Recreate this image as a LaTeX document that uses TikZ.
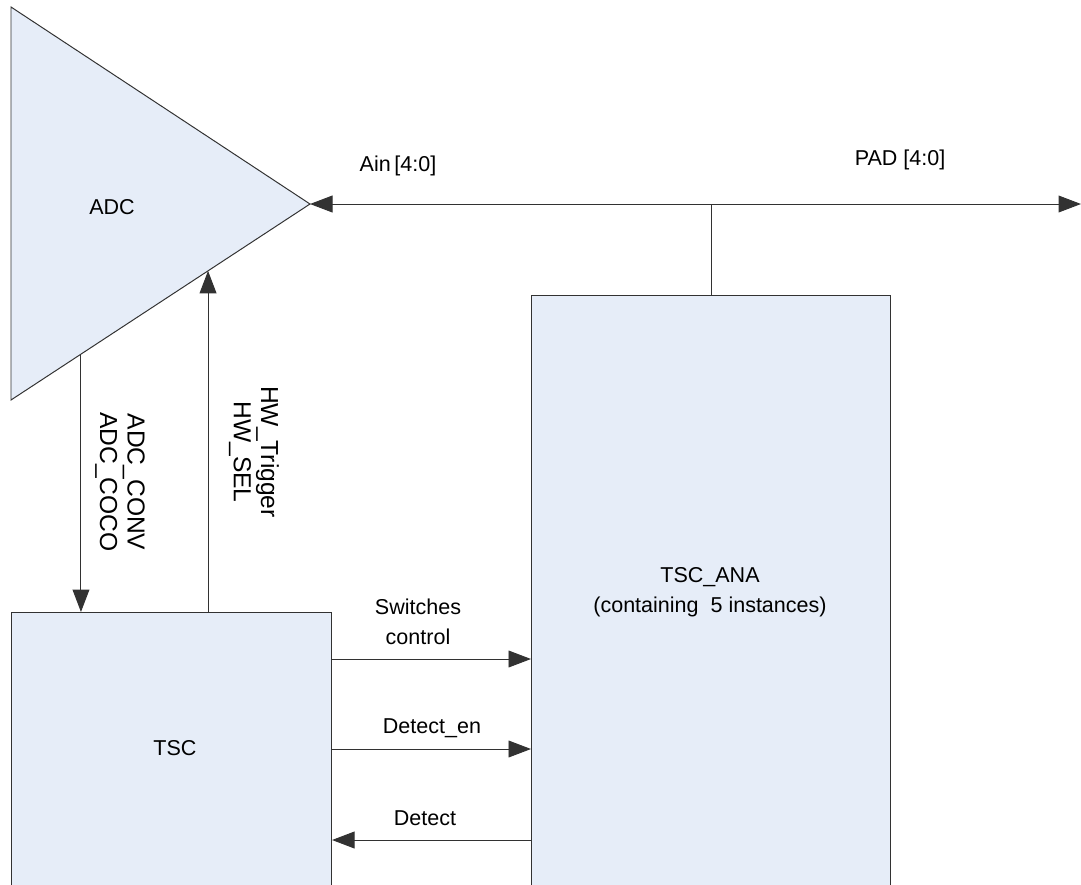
\documentclass[tikz,border=0pt]{standalone}
\usepackage{fontspec}
\setmainfont{Liberation Sans}
\usetikzlibrary{positioning,arrows.meta,calc}
\definecolor{BlockFill}{RGB}{230,237,248}
\definecolor{WireGray}{RGB}{50,50,50}

\begin{document}
\begin{tikzpicture}[
x=0.025cm, y=-0.025cm,
font=\fontsize{15.3}{21}\selectfont,
blk/.style={draw=WireGray, fill=BlockFill, line width=0.7pt, inner sep=0pt},
wire/.style={draw=WireGray, line width=0.7pt},
tip/.style={-{Triangle[length=16pt, width=12pt]}},
arr/.style={wire, tip},
lbl/.style={align=center, inner sep=1pt},
vlbl/.style={lbl, rotate=-90, font=\fontsize{17.5}{19.5}\selectfont}
]
\useasboundingbox (0,0) rectangle (1081,884);
\clip (0,0) rectangle (1081,884);

% ADC triangle
\coordinate (adctl) at (11,7);
\coordinate (adcbl) at (11,400);
\coordinate (adctip) at (310,204);
\filldraw[blk] (adctl) -- (adctip) -- (adcbl) -- cycle;
\node (adc) at (112,207) {ADC};

% blocks
\node[blk, anchor=north west, minimum width=8cm, minimum height=7.4cm] (tsc) at (11,612) {};
\node[blk, anchor=north west, minimum width=8.975cm, minimum height=15.5cm] (tscana) at (531,295) {};
\node (tsclbl) at (175,748) {TSC};
\node[lbl] (analbl) at (710,592) {TSC\_ANA\\(containing \ 5 instances)};

% analog bus
\coordinate (padend) at (1081,204);
\draw[wire, {Triangle[length=16pt, width=12pt]}-{Triangle[length=16pt, width=12pt]}] (adctip) -- (padend);
\draw[wire] (tscana.north) -- (tscana.north |- adctip);
\node (ain) at (398,166) {Ain\,[4:0]};
\node (pad) at (900,160) {PAD [4:0]};

% ADC <-> TSC
\coordinate (convout) at ($(adcbl)!0.234!(adctip)$);
\coordinate (hwin) at ($(adcbl)!0.659!(adctip)$);
\draw[arr] (convout) -- (convout |- tsc.north);
\draw[arr] (tsc.north -| hwin) -- (hwin);
\node[vlbl] (convlbl) at (120,482) {ADC\_CONV\\ADC\_COCO};
\node[vlbl] (hwlbl) at (254,452) {HW\_Trigger\\HW\_SEL};

% TSC <-> TSC_ANA
\coordinate (swy) at (0,659);
\coordinate (eny) at (0,749);
\coordinate (dety) at (0,840);
\node[lbl] (swlbl) at (418,622) {Switches\\control};
\node[lbl] (enlbl) at (432,728) {Detect\_en};
\node[lbl] (detlbl) at (425,818) {Detect};
\draw[arr] (tsc.east |- swy) -- (tscana.west |- swy);
\draw[arr] (tsc.east |- eny) -- (tscana.west |- eny);
\draw[arr] (tscana.west |- dety) -- (tsc.east |- dety);
\end{tikzpicture}
\end{document}
